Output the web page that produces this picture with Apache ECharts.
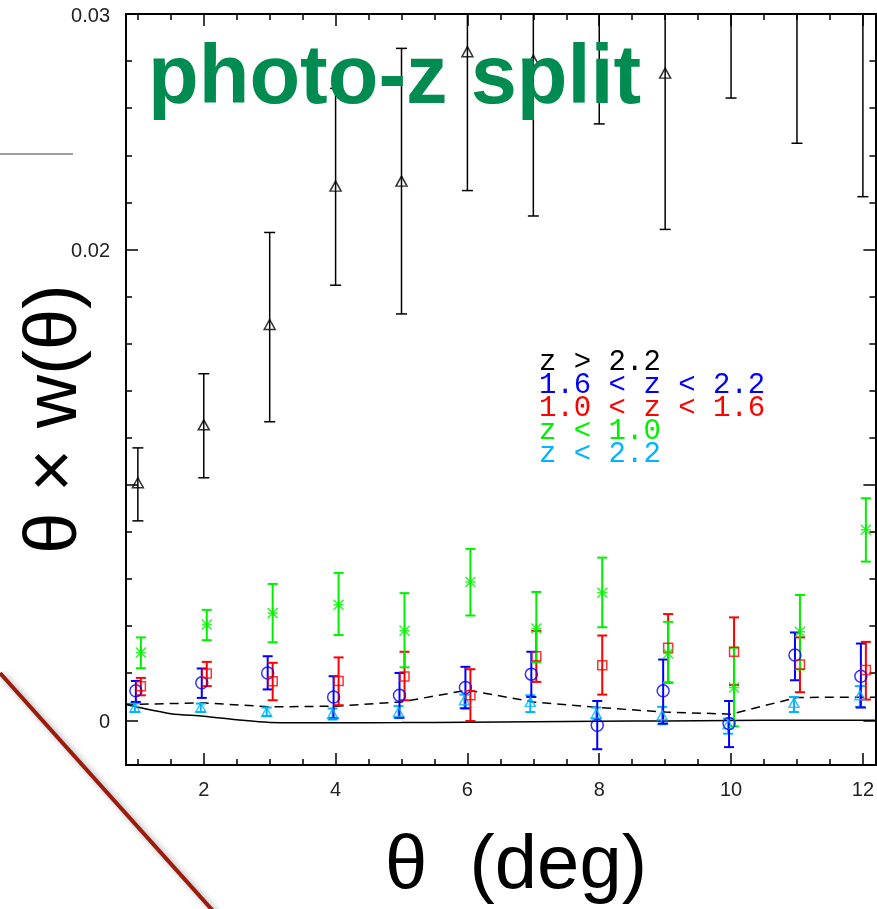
<!DOCTYPE html>
<html><head><meta charset="utf-8">
<script src="https://cdn.jsdelivr.net/npm/echarts@6/dist/echarts.min.js"></script>
<style>html,body{margin:0;padding:0;background:#fff}#c{width:877px;height:909px}</style>
</head><body><div id="c"></div>
<script>
// ---- data ----
const theta = [1,2,3,4,5,6,7,8,9,10,11,12];
// z > 2.2 (black triangles)
const zHigh    = [0.01009,0.01255,0.01681,0.02269,0.0229,0.0284,0.02804,0.0318,0.02749,0.0335,0.032,0.031];
const zHighLo  = [0.00847,0.0103,0.01268,0.01848,0.01726,0.0225,0.02142,0.02533,0.02085,0.02643,0.02451,0.02224];
const zHighHi  = [0.01157,0.01472,0.02072,0.02684,0.02854,0.0343,0.03466,0.0383,0.03413,0.0406,0.0395,0.0398];
// 1.6 < z < 2.2 (blue circles)
const zMid2    = [0.00125,0.00159,0.00201,0.00099,0.00106,0.00139,0.00196,-0.00021,0.00125,-0.00014,0.00277,0.00187];
const zMid2Lo  = [0.00078,0.00095,0.00131,0.00009,0.00011,0.0005,0.00099,-0.00123,-0.00014,-0.00114,0.0017,0.00054];
const zMid2Hi  = [0.00167,0.0022,0.00272,0.00187,0.00201,0.00227,0.00291,0.00082,0.00258,0.00082,0.00373,0.00326];
// 1.0 < z < 1.6 (red squares)
const zMid1    = [0.00145,0.00199,0.00166,0.00167,0.00186,0.00106,0.00272,0.00234,0.00308,0.00291,0.00237,0.00213];
const zMid1Lo  = [0.00106,0.00145,0.00085,0.00064,0.00085,-0.00003,0.00163,0.00109,0.0016,0.0015,0.00119,0.00088];
const zMid1Hi  = [0.0018,0.00248,0.00244,0.00267,0.00291,0.00217,0.0038,0.0036,0.00451,0.00437,0.00352,0.00333];
// z < 1.0 (green asterisks)
const zLow     = [0.00288,0.00407,0.00455,0.00491,0.0038,0.00587,0.0039,0.00542,0.00284,0.00139,0.00376,0.00809];
const zLowLo   = [0.00221,0.0034,0.00331,0.00362,0.00225,0.00445,0.00247,0.00395,0.0016,-0.00026,0.00216,0.00674];
const zLowHi   = [0.00352,0.00469,0.00579,0.00626,0.0054,0.00728,0.00545,0.00691,0.00418,0.00308,0.00532,0.00943];
// z < 2.2 (cyan triangles)
const zAll     = [0.00054,0.00054,0.00035,0.00028,0.00035,0.00085,0.00078,0.00028,0.00021,-0.00017,0.00074,0.00106];
const zAllLo   = [0.00035,0.00035,0.00018,0.00003,0.0001,0.00052,0.00035,0.00007,-0.00017,-0.00057,0.00035,0.00057];
const zAllHi   = [0.00072,0.00071,0.00054,0.0005,0.0006,0.00109,0.00106,0.00054,0.00057,0.00007,0.00099,0.00145];
// model curves
const dashTheta = [0.8,1,2,3,4,5,6,7,8,9,10,11,12,12.4];
const dashVal   = [0.00069,0.00068,0.00074,0.00057,0.0006,0.00078,0.00128,0.00078,0.00054,0.00035,0.00026,0.00097,0.00098,0.00098];
const solidTheta = [0.8,1,1.5,2,2.5,3,4,5,6,7,8,9,10,11,12,12.4];
const solidVal   = [0.00068,0.00055,0.00028,0.00017,0.00002,-0.00009,-0.00011,-0.0001,-0.00008,-0.00006,-0.00004,-0.00003,-0.00001,0,0,0];
// axes
const xMin = 0.82, xMax = 12.19, yMin = -0.0019, yMax = 0.03;
const xMajor = [2,4,6,8,10,12];
const xMinor = [1,1.5,2,2.5,3,3.5,4,4.5,5,5.5,6,6.5,7,7.5,8,8.5,9,9.5,10,10.5,11,11.5,12];
const yMajor = [0,0.01,0.02,0.03];
const yLabels = [0,0.02,0.03];
const yMinor = [0,0.002,0.004,0.006,0.008,0.01,0.012,0.014,0.016,0.018,0.02,0.022,0.024,0.026,0.028,0.03];
const legendLines = ['z > 2.2','1.6 < z < 2.2','1.0 < z < 1.6','z < 1.0','z < 2.2'];

// ---- styles ----
const C = {black:'#000000', blue:'#0000ff', red:'#ff0000', green:'#00f000', cyan:'#00b4ff'};

function zip(v){ return theta.map((t,i)=>[t, v[i]]); }
function zipErr(lo,hi){ return theta.map((t,i)=>[t, lo[i], hi[i]]); }
function zipXY(xs, ys){ return xs.map((t,i)=>[t, ys[i]]); }

function errSeries(name, lo, hi, color, off, cap, lw){
  return {
    type:'custom', name, clip:true, silent:true, z:3,
    data: zipErr(lo,hi), encode:{x:0, y:[1,2]},
    renderItem(params, api){
      const a = api.coord([api.value(0), api.value(1)]);
      const b = api.coord([api.value(0), api.value(2)]);
      const x = a[0] + off;
      const st = {stroke:color, lineWidth:lw};
      return {type:'group', children:[
        {type:'line', shape:{x1:x, y1:a[1], x2:x, y2:b[1]}, style:st},
        {type:'line', shape:{x1:x-cap/2, y1:a[1], x2:x+cap/2, y2:a[1]}, style:st},
        {type:'line', shape:{x1:x-cap/2, y1:b[1], x2:x+cap/2, y2:b[1]}, style:st}
      ]};
    }
  };
}
function markSeries(name, vals, color, symbol, size, off, lw){
  return {
    type:'scatter', name, data: zip(vals), symbol, symbolSize:size,
    symbolOffset:[off,0], clip:true, z:4, silent:true,
    itemStyle:{color:'rgba(0,0,0,0)', borderColor:color, borderWidth:lw}
  };
}
const asterisk = 'path://M0,0L10,10M10,0L0,10M5,0L5,10M0,5L10,5';

const tickStyle = {color:'#000', width:1.5};
function xAx(pos, major){
  return {
    type:'value', min:xMin, max:xMax, position:pos,
    axisLine:{show:true, onZero:false, lineStyle:{color:'#000', width:2}},
    axisTick:{show:true, inside:true, length: major?12:6, customValues: major?xMajor:xMinor, lineStyle:tickStyle},
    axisLabel:{show: major && pos==='bottom', customValues:xMajor, margin:15, color:'#222',
      fontFamily:'Liberation Sans', fontSize:20},
    splitLine:{show:false}
  };
}
function yAx(pos, major){
  return {
    type:'value', min:yMin, max:yMax, position:pos,
    axisLine:{show:true, onZero:false, lineStyle:{color:'#000', width:2}},
    axisTick:{show:true, inside:true, length: major?12:6, customValues: major?yMajor:yMinor, lineStyle:tickStyle},
    axisLabel:{show: major && pos==='left', customValues:yLabels, margin:16, color:'#222',
      fontFamily:'Liberation Sans', fontSize:20, verticalAlign:'top', padding:[-8,0,0,0]},
    splitLine:{show:false}
  };
}

const legendColors = [C.black, C.blue, C.red, C.green, C.cyan];
const rich = {};
legendColors.forEach((c,i)=>{ rich['s'+i] = {color:c, fontFamily:'Liberation Mono', fontWeight:'normal', fontSize:29, lineHeight:23}; });
const legendText = legendLines.map((t,i)=>'{s'+i+'|'+t+'}').join('\n');

const chart = echarts.init(document.getElementById('c'), null, {renderer:'canvas'});
chart.setOption({
  animation:false,
  backgroundColor:'#ffffff',
  grid:{left:126, right:1, top:14, bottom:144, containLabel:false},
  xAxis:[xAx('bottom',true), xAx('top',true), xAx('bottom',false), xAx('top',false)],
  yAxis:[yAx('left',true), yAx('right',true), yAx('left',false), yAx('right',false)],
  title:[
    {text:'photo-z split', left:143, top:34, textStyle:{color:'#008c50', fontFamily:'Liberation Sans', fontWeight:'bold', fontSize:83, lineHeight:83}},
    {text:legendText, left:534, top:346, textStyle:{rich, fontWeight:'normal', lineHeight:23}}
  ],
  graphic:[
    {type:'line', shape:{x1:0, y1:154, x2:73, y2:154}, style:{stroke:'#a0a0a0', lineWidth:2}},
    {type:'line', shape:{x1:0, y1:673, x2:214, y2:912},
      style:{stroke:'#9b1c0c', lineWidth:4, shadowBlur:6, shadowColor:'rgba(0,0,0,0.35)', shadowOffsetX:3, shadowOffsetY:2}},
    {type:'text', x:56, y:419, rotation:Math.PI/2,
      style:{text:'θ × w(θ)', font:'74px "Liberation Sans"', fill:'#000', align:'center', verticalAlign:'middle'}},
    {type:'text', x:516, y:867,
      style:{text:'θ  (deg)', font:'76px "Liberation Sans"', fill:'#000', align:'center', verticalAlign:'middle'}}
  ],
  series:[
    {type:'line', name:'model', data:zipXY(solidTheta, solidVal), symbol:'none', smooth:0.3, clip:true, silent:true,
      lineStyle:{color:'#000', width:1.5}, z:2},
    {type:'line', name:'model dashed', data:zipXY(dashTheta, dashVal), symbol:'none', clip:true, silent:true,
      lineStyle:{color:'#000', width:1.5, type:[9,6]}, z:2},
    errSeries('z > 2.2', zHighLo, zHighHi, C.black, 0, 11, 1.5),
    markSeries('z > 2.2', zHigh, C.black, 'triangle', [11,10], 0, 1.5),
    errSeries('z < 2.2', zAllLo, zAllHi, C.cyan, -3, 10, 2),
    markSeries('z < 2.2', zAll, C.cyan, 'triangle', [10,9], -3, 1.5),
    errSeries('1.6 < z < 2.2', zMid2Lo, zMid2Hi, C.blue, -2, 10, 2),
    markSeries('1.6 < z < 2.2', zMid2, C.blue, 'circle', 12, -2, 1.5),
    errSeries('1.0 < z < 1.6', zMid1Lo, zMid1Hi, C.red, 3, 10, 2),
    markSeries('1.0 < z < 1.6', zMid1, C.red, 'rect', 9, 3, 1.5),
    errSeries('z < 1.0', zLowLo, zLowHi, C.green, 3, 10, 2),
    markSeries('z < 1.0', zLow, C.green, asterisk, 10, 3, 1.5)
  ]
});
</script>
</body></html>
